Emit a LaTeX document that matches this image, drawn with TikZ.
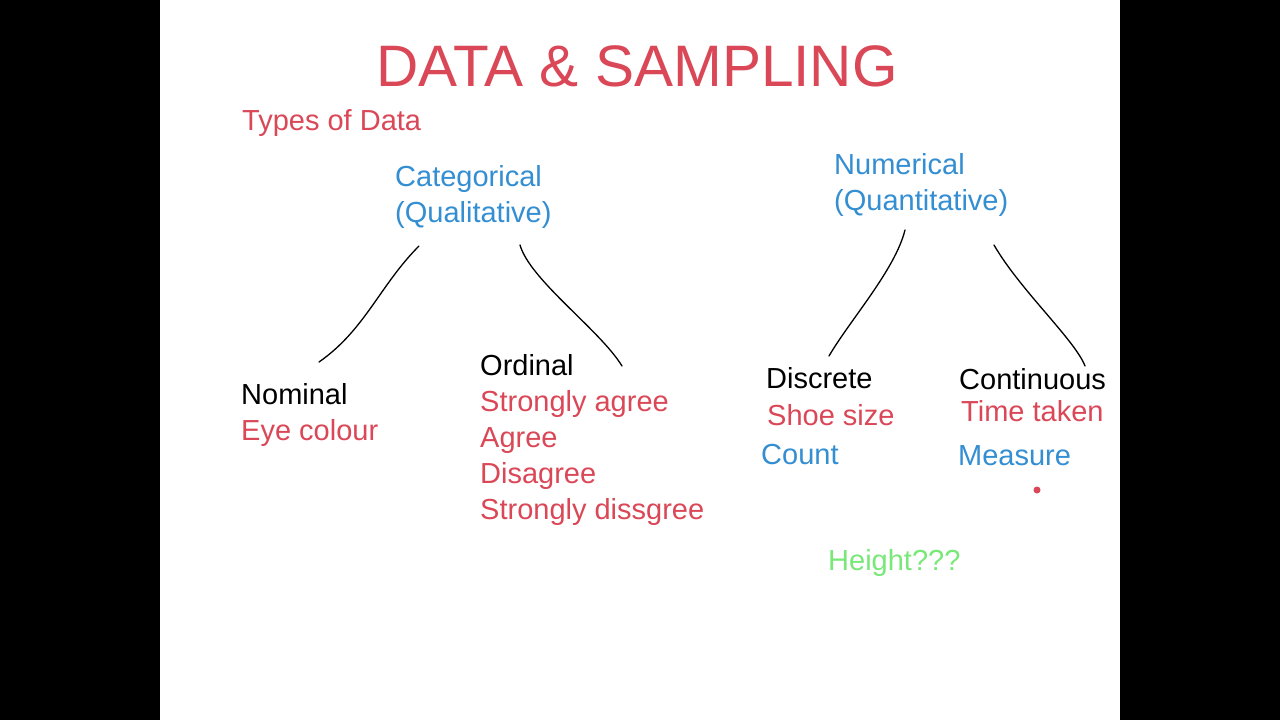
\documentclass[tikz,border=0pt]{standalone}
\usepackage{fontspec}
\setmainfont{Liberation Sans}
\definecolor{rd}{RGB}{218,72,88}
\definecolor{bl}{RGB}{52,142,210}
\definecolor{gr}{RGB}{120,232,120}
\begin{document}
\begin{tikzpicture}[x=1pt,y=-1pt,
  txt/.style={anchor=west,inner sep=0pt,font=\fontsize{29}{30}\selectfont,text height=23pt,text depth=5pt},
  stroke/.style={line width=1.3pt,line cap=round}]
\fill[black] (0,0) rectangle (1280,720);
\fill[white] (160,0) rectangle (1120,720);
\useasboundingbox (0,0) rectangle (1280,720);
\node[anchor=center,inner sep=0pt,text=rd,font=\fontsize{58.5}{60}\selectfont] (title) at (637,66) {DATA \& SAMPLING};
\node[txt,text=rd] (types) at (242,121) {Types of Data};
\node[txt,text=bl] (cat1) at (395,177) {Categorical};
\node[txt,text=bl] (cat2) at (395,213) {(Qualitative)};
\node[txt,text=bl] (num1) at (834,165) {Numerical};
\node[txt,text=bl] (num2) at (834,201) {(Quantitative)};
\node[txt] (nom) at (241,395) {Nominal};
\node[txt,text=rd] (eye) at (241,431) {Eye colour};
\node[txt] (ord) at (480,366) {Ordinal};
\node[txt,text=rd] (o1) at (480,402) {Strongly agree};
\node[txt,text=rd] (o2) at (480,438) {Agree};
\node[txt,text=rd] (o3) at (480,474) {Disagree};
\node[txt,text=rd] (o4) at (480,510) {Strongly dissgree};
\node[txt] (dis) at (766,379) {Discrete};
\node[txt,text=rd] (shoe) at (767,416) {Shoe size};
\node[txt,text=bl] (count) at (761,455) {Count};
\node[txt] (con) at (959,380) {Continuous};
\node[txt,text=rd] (time) at (961,412) {Time taken};
\node[txt,text=bl] (meas) at (958,456) {Measure};
\node[txt,text=gr] (h) at (828,561) {Height???};
\fill[rd] (1037,490) circle (3.5);
\coordinate (a1) at (419,246); \coordinate (a2) at (319,362);
\coordinate (b1) at (520,245); \coordinate (b2) at (622,366);
\coordinate (c1) at (905,230); \coordinate (c2) at (829,356);
\coordinate (d1) at (994,245); \coordinate (d2) at (1085,366);
\draw[stroke] (a1) .. controls (380,285) and (365,330) .. (a2);
\draw[stroke] (b1) .. controls (530,280) and (600,330) .. (b2);
\draw[stroke] (c1) .. controls (895,270) and (850,320) .. (c2);
\draw[stroke] (d1) .. controls (1020,290) and (1075,340) .. (d2);
\end{tikzpicture}
\end{document}
